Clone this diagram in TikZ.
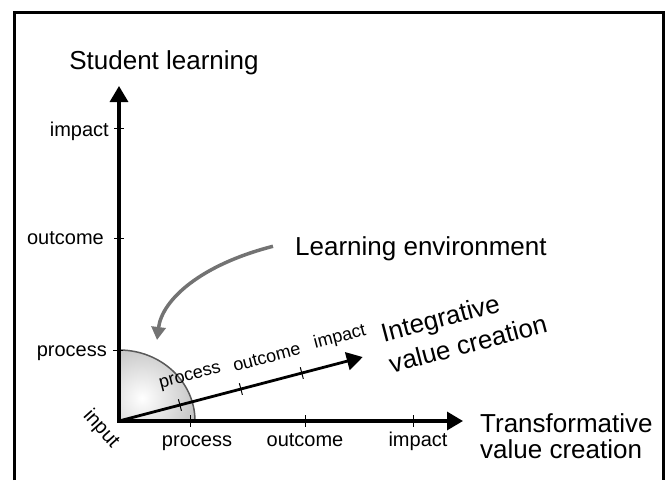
\documentclass[tikz,border=0pt]{standalone}
\usepackage{fontspec}
\setmainfont{Liberation Sans}
\usetikzlibrary{arrows.meta}

\tikzset{
    axis/.style={line width=3.2pt, ->},
    axistick/.style={line width=1pt},
    ticklabel/.style={inner sep=0pt, font=\fontsize{20}{24}\selectfont},
    title/.style={inner sep=0pt, align=left, font=\fontsize{26}{34}\selectfont},
    envarrow/.style={line width=3.5pt, black!55, -{Triangle[length=13pt, width=14pt]}},
}

\begin{document}
\begin{tikzpicture}[x=1pt, y=-1pt, >={Triangle[length=16pt, width=18pt]}]
    \useasboundingbox (0,0) rectangle (667,480);
    \draw[line width=3pt] (14,480) -- (14,12) -- (663,12) -- (663,480);

    \coordinate (O) at (119,421);
    \coordinate (ytip) at (119,86);
    \coordinate (xtip) at (463,421);

    % shaded quarter for the learning environment
    \begin{scope}
        \clip (O) -- (195,421) arc[start angle=0, end angle=-90, x radius=76, y radius=71] -- cycle;
        \shade[inner color=white, outer color=black!55] (142,398) circle[radius=130];
    \end{scope}
    \draw[line width=1.5pt, black!65] (195,421) arc[start angle=0, end angle=-90, x radius=76, y radius=71];

    \draw[axis, <->] (ytip) -- (O) -- (xtip);

    % student learning
    \draw[axistick] (114,128) -- (124,128);
    \draw[axistick] (114,238) -- (124,238);
    \draw[axistick] (113,350) -- (123,350);
    \node[ticklabel, anchor=base east] (yimpact) at (109,136) {impact};
    \node[ticklabel, anchor=base east] (youtcome) at (104,244) {outcome};
    \node[ticklabel, anchor=base east] (yprocess) at (107,356) {process};
    \node[title, anchor=base] (yname) at (164,69) {Student learning};

    % transformative
    \draw[axistick] (190,415) -- (190,427);
    \draw[axistick] (305,415) -- (305,427);
    \draw[axistick] (413,415) -- (413,427);
    \node[ticklabel, anchor=base] (xprocess) at (197,446) {process};
    \node[ticklabel, anchor=base] (xoutcome) at (305,446) {outcome};
    \node[ticklabel, anchor=base] (ximpact) at (418,446) {impact};
    \node[title, anchor=base west] (xname) at (480,458) {Transformative\\[-8pt]value creation};

    \node[ticklabel, rotate=-48] (input) at (101,429) {input};

    % integrative
    \begin{scope}[shift={(O)}, rotate=14.7, transform shape]
        \coordinate (ztip) at (252,0);
        \draw[axis, line width=2.8pt] (O) -- (ztip);
        \draw[axistick] (63,-6) -- (63,6);
        \draw[axistick] (126,-6) -- (126,6);
        \draw[axistick] (189,-6) -- (189,6);
        \node[ticklabel, font=\fontsize{18}{22}\selectfont] (zprocess) at (80,-24) {process};
        \node[ticklabel, font=\fontsize{18}{22}\selectfont] (zoutcome) at (159,-24) {outcome};
        \node[ticklabel, font=\fontsize{18}{22}\selectfont] (zimpact) at (235,-25) {impact};
        \node[title, anchor=base west] (zname) at (276,23) {Integrative\\[-2pt]value creation};
    \end{scope}

    % learning environment
    \node[title, anchor=base west] (env) at (295,255) {Learning environment};
    \coordinate (envtip) at (157,340);
    \draw[envarrow] ([shift={(-22,-2)}]env.west) .. controls (200,265) and (162,300) .. (envtip);
\end{tikzpicture}
\end{document}
